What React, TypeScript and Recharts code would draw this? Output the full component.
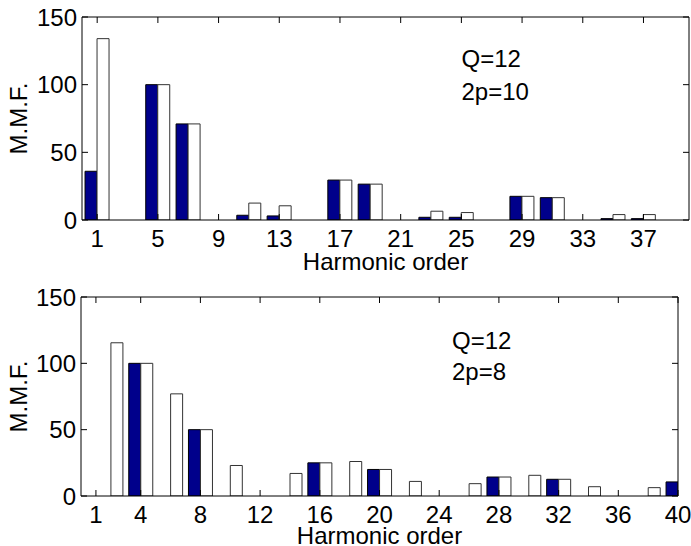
import React from 'react';
import { BarChart, Bar, XAxis, YAxis, Label } from 'recharts';

// ---- data ----
const topHarmonics = [1, 3, 5, 7, 9, 11, 13, 15, 17, 19, 21, 23, 25, 27, 29, 31, 33, 35, 37, 39];
const topBlue = [36, 0, 100, 71, 0, 3.5, 3, 0, 29.5, 26.5, 0, 2, 2, 0, 17.5, 16.5, 0, 1, 1, 0];
const topWhite = [134, 0, 100, 71, 0, 12.5, 10.5, 0, 29.5, 26.5, 0, 6.5, 5.5, 0, 17.5, 16.5, 0, 4, 4, 0];
const topTicks = [1, 5, 9, 13, 17, 21, 25, 29, 33, 37];

const bottomHarmonics = [2, 4, 6, 8, 10, 12, 14, 16, 18, 20, 22, 24, 26, 28, 30, 32, 34, 36, 38, 40];
const bottomBlue = [0, 100, 0, 50, 0, 0, 0, 25, 0, 20, 0, 0, 0, 14.3, 0, 12.6, 0, 0, 0, 10.6];
const bottomWhite = [115.5, 100, 77, 50, 23, 0, 17, 25, 26, 20, 11, 0, 9.3, 14.3, 15.6, 12.6, 7, 0, 6.3, 10.6];
const bottomTicks = [1, 4, 8, 12, 16, 20, 24, 28, 32, 36, 40];

const yTicks = [0, 50, 100, 150];
const xDomain = [0, 40];
const yDomain = [0, 150];

const topData = topHarmonics.map((h, i) => ({ h, blue: topBlue[i], white: topWhite[i] }));
const bottomData = bottomHarmonics.map((h, i) => ({ h, blue: bottomBlue[i], white: bottomWhite[i] }));

const FONT = '"Liberation Sans", Arial, Helvetica, sans-serif';
const FS = 24;
const BLUE = '#00008B';

const YTitle = (props: any) => {
  const vb = props.viewBox || { x: 0, y: 0, width: 0, height: 0 };
  const cx = 27;
  const cy = vb.y + vb.height / 2;
  return (
    <text x={cx} y={cy} transform={`rotate(-90 ${cx} ${cy})`} textAnchor="middle" fontSize={FS} fill="#000" fontFamily={FONT}>
      M.M.F.
    </text>
  );
};

type PanelProps = {
  data: any[];
  ticks: number[];
  top: number;
  height: number;
  marginRight: number;
  yAxisWidth: number;
  xAxisHeight: number;
  titleOffset: number;
};

const Panel = ({ data, ticks, top, height, marginRight, yAxisWidth, xAxisHeight, titleOffset }: PanelProps) => (
  <div style={{ position: 'absolute', left: 0, top }}>
    <BarChart
      width={691}
      height={height}
      data={data}
      margin={{ top: 16, right: marginRight, bottom: 0, left: 0 }}
      barGap={0}
      barCategoryGap="10%"
    >
      <XAxis
        xAxisId="bottom"
        dataKey="h"
        type="number"
        domain={xDomain}
        ticks={ticks}
        interval={0}
        allowDataOverflow
        height={xAxisHeight}
        tickSize={-6}
        tickMargin={16}
        axisLine={{ stroke: '#000', strokeWidth: 1 }}
        tickLine={{ stroke: '#000', strokeWidth: 1 }}
        tick={{ fontSize: FS, fill: '#000', fontFamily: FONT }}
      >
        <Label value="Harmonic order" position="insideBottom" offset={titleOffset} fontSize={FS} fill="#000" fontFamily={FONT} />
      </XAxis>
      <XAxis
        xAxisId="top"
        orientation="top"
        dataKey="h"
        type="number"
        domain={xDomain}
        ticks={ticks}
        interval={0}
        allowDataOverflow
        height={1}
        tickSize={-6}
        tickFormatter={() => ''}
        axisLine={{ stroke: '#000', strokeWidth: 1 }}
        tickLine={{ stroke: '#000', strokeWidth: 1 }}
      />
      <YAxis
        yAxisId="left"
        type="number"
        domain={yDomain}
        ticks={yTicks}
        interval={0}
        allowDataOverflow
        width={yAxisWidth}
        tickSize={-6}
        tickMargin={11}
        axisLine={{ stroke: '#000', strokeWidth: 1 }}
        tickLine={{ stroke: '#000', strokeWidth: 1 }}
        tick={{ fontSize: FS, fill: '#000', fontFamily: FONT }}
      >
        <Label content={<YTitle />} />
      </YAxis>
      <YAxis
        yAxisId="right"
        orientation="right"
        type="number"
        domain={yDomain}
        ticks={yTicks}
        interval={0}
        allowDataOverflow
        width={1}
        tickSize={-6}
        tickFormatter={() => ''}
        axisLine={{ stroke: '#000', strokeWidth: 1 }}
        tickLine={{ stroke: '#000', strokeWidth: 1 }}
      />
      <Bar xAxisId="bottom" yAxisId="left" dataKey="blue" fill={BLUE} stroke="#000" strokeWidth={1} isAnimationActive={false} />
      <Bar xAxisId="bottom" yAxisId="left" dataKey="white" fill="#fff" stroke="#333" strokeWidth={1} isAnimationActive={false} />
    </BarChart>
  </div>
);

export default function App() {
  return (
    <div
      style={{
        position: 'absolute',
        left: 0,
        top: 0,
        width: 691,
        height: 546,
        background: '#fff',
        overflow: 'hidden',
        fontFamily: FONT,
      }}
    >
      <Panel data={topData} ticks={topTicks} top={0} height={280} marginRight={1} yAxisWidth={82} xAxisHeight={60} titleOffset={10} />
      <Panel data={bottomData} ticks={bottomTicks} top={280} height={266} marginRight={12} yAxisWidth={81} xAxisHeight={50} titleOffset={2} />
      <svg width={691} height={546} style={{ position: 'absolute', left: 0, top: 0, pointerEvents: 'none' }}>
        <g fontSize={FS} fill="#000" fontFamily={FONT}>
          <text x={461.5} y={67}>Q=12</text>
          <text x={461.5} y={99.5}>2p=10</text>
          <text x={452} y={348.5}>Q=12</text>
          <text x={452} y={379.5}>2p=8</text>
        </g>
      </svg>
    </div>
  );
}
